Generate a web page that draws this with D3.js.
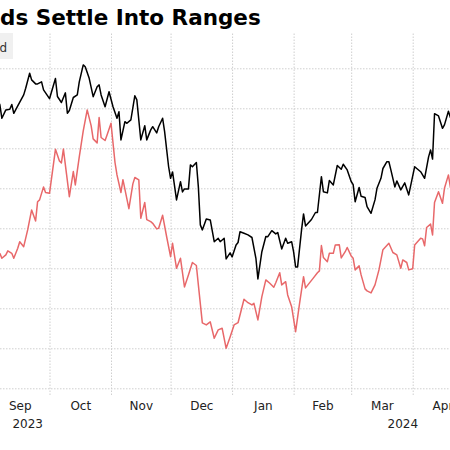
<!DOCTYPE html>
<html>
<head>
<meta charset="utf-8">
<script src="https://cdn.jsdelivr.net/npm/d3@7"></script>
<style>
  html, body { margin: 0; padding: 0; background: #fff; }
  svg { display: block; }
</style>
</head>
<body>
<svg id="chart" width="450" height="450"></svg>
<script>
// ---------------- DATA ----------------
const titleText = "ds Settle Into Ranges";
const legendText = "d";

const blackDates = [
"2023-09-05","2023-09-06","2023-09-07","2023-09-09","2023-09-11","2023-09-12","2023-09-13","2023-09-15","2023-09-18","2023-09-19",
"2023-09-21","2023-09-22","2023-09-24","2023-09-25","2023-09-27","2023-09-28","2023-10-01","2023-10-04","2023-10-05","2023-10-07",
"2023-10-09","2023-10-10","2023-10-11","2023-10-13","2023-10-15","2023-10-16","2023-10-18","2023-10-19","2023-10-21","2023-10-23",
"2023-10-25","2023-10-26","2023-10-27","2023-10-29","2023-10-31","2023-11-02","2023-11-04","2023-11-05","2023-11-06","2023-11-08",
"2023-11-09","2023-11-11","2023-11-13","2023-11-14","2023-11-16","2023-11-18","2023-11-19","2023-11-21","2023-11-22","2023-11-24",
"2023-11-25","2023-11-27","2023-11-28","2023-11-30","2023-12-01","2023-12-02","2023-12-04","2023-12-06","2023-12-07","2023-12-08",
"2023-12-10","2023-12-11","2023-12-12","2023-12-14","2023-12-15","2023-12-16","2023-12-17","2023-12-19","2023-12-21","2023-12-23",
"2023-12-25","2023-12-26","2023-12-28","2023-12-29","2023-12-31","2024-01-01","2024-01-03","2024-01-04","2024-01-05","2024-01-07",
"2024-01-09","2024-01-11","2024-01-13","2024-01-14","2024-01-16","2024-01-18","2024-01-19","2024-01-21","2024-01-23","2024-01-24",
"2024-01-26","2024-01-28","2024-01-29","2024-01-31","2024-02-01","2024-02-02","2024-02-03","2024-02-05","2024-02-06","2024-02-07",
"2024-02-10","2024-02-12","2024-02-13","2024-02-15","2024-02-16","2024-02-18","2024-02-19","2024-02-21","2024-02-23","2024-02-25",
"2024-02-26","2024-02-28","2024-03-01","2024-03-02","2024-03-03","2024-03-05","2024-03-06","2024-03-08","2024-03-09","2024-03-11",
"2024-03-13","2024-03-14","2024-03-16","2024-03-17","2024-03-19","2024-03-20","2024-03-21","2024-03-23","2024-03-24","2024-03-26",
"2024-03-28","2024-03-30","2024-04-02","2024-04-05","2024-04-07","2024-04-09","2024-04-10","2024-04-11","2024-04-12","2024-04-14",
"2024-04-16","2024-04-17","2024-04-19","2024-04-20","2024-04-21"
];
const blackValues = [
4.842,4.817,4.750,4.792,4.795,4.819,4.775,4.812,4.867,4.900,
4.975,4.942,4.922,4.922,4.932,4.892,4.848,4.949,4.859,4.829,
4.877,4.775,4.789,4.854,4.867,4.932,5.017,5.008,4.950,4.858,
4.908,4.917,4.867,4.808,4.883,4.808,4.750,4.783,4.642,4.733,
4.725,4.742,4.863,4.842,4.642,4.713,4.642,4.692,4.708,4.677,
4.708,4.750,4.683,4.509,4.450,4.482,4.342,4.433,4.382,4.397,
4.397,4.517,4.508,4.529,4.407,4.217,4.192,4.247,4.242,4.133,
4.150,4.133,4.150,4.047,4.077,4.057,4.117,4.129,4.183,4.175,
4.167,4.154,4.050,3.947,4.083,4.159,4.158,4.188,4.172,4.179,
4.097,4.150,4.125,4.133,4.082,4.007,4.007,4.192,4.272,4.212,
4.244,4.279,4.279,4.458,4.383,4.377,4.439,4.417,4.514,4.495,
4.520,4.492,4.434,4.418,4.333,4.404,4.360,4.354,4.308,4.275,
4.342,4.400,4.450,4.499,4.533,4.533,4.492,4.407,4.437,4.392,
4.427,4.367,4.508,4.483,4.450,4.557,4.592,4.546,4.773,4.762,
4.700,4.717,4.785,4.754,4.742
];

const redDates = [
"2023-09-06","2023-09-07","2023-09-09","2023-09-10","2023-09-12","2023-09-13","2023-09-15","2023-09-16","2023-09-18","2023-09-20",
"2023-09-22","2023-09-24","2023-09-25","2023-09-26","2023-09-28","2023-09-29","2023-10-01","2023-10-04","2023-10-06","2023-10-07",
"2023-10-08","2023-10-11","2023-10-13","2023-10-14","2023-10-16","2023-10-18","2023-10-20","2023-10-22","2023-10-23","2023-10-25",
"2023-10-26","2023-10-27","2023-10-29","2023-10-30","2023-11-01","2023-11-03","2023-11-04","2023-11-06","2023-11-07","2023-11-10",
"2023-11-12","2023-11-13","2023-11-15","2023-11-16","2023-11-18","2023-11-19","2023-11-21","2023-11-22","2023-11-24","2023-11-25",
"2023-11-27","2023-11-29","2023-12-01","2023-12-02","2023-12-04","2023-12-06","2023-12-08","2023-12-10","2023-12-12","2023-12-14",
"2023-12-15","2023-12-17","2023-12-19","2023-12-21","2023-12-23","2023-12-25","2023-12-27","2023-12-29","2023-12-31","2024-01-02",
"2024-01-04","2024-01-07","2024-01-09","2024-01-11","2024-01-12","2024-01-14","2024-01-16","2024-01-18","2024-01-20","2024-01-22",
"2024-01-23","2024-01-25","2024-01-26","2024-01-28","2024-01-29","2024-01-31","2024-02-02","2024-02-04","2024-02-06","2024-02-07",
"2024-02-11","2024-02-13","2024-02-14","2024-02-15","2024-02-16","2024-02-18","2024-02-19","2024-02-21","2024-02-22","2024-02-24",
"2024-02-25","2024-02-27","2024-02-28","2024-03-01","2024-03-02","2024-03-03","2024-03-05","2024-03-06","2024-03-08","2024-03-09",
"2024-03-11","2024-03-13","2024-03-15","2024-03-17","2024-03-20","2024-03-22","2024-03-24","2024-03-26","2024-03-27","2024-03-29",
"2024-03-30","2024-04-01","2024-04-02","2024-04-05","2024-04-06","2024-04-07","2024-04-08","2024-04-10","2024-04-11","2024-04-12",
"2024-04-14","2024-04-16","2024-04-17","2024-04-19","2024-04-20","2024-04-21"
];
const redValues = [
4.075,4.050,4.067,4.087,4.075,4.050,4.100,4.133,4.108,4.192,
4.292,4.237,4.333,4.342,4.407,4.379,4.375,4.595,4.537,4.527,
4.596,4.358,4.484,4.417,4.557,4.687,4.792,4.712,4.647,4.627,
4.754,4.654,4.639,4.667,4.725,4.529,4.467,4.379,4.443,4.298,
4.422,4.454,4.442,4.250,4.329,4.243,4.233,4.225,4.197,4.200,
4.265,4.159,4.058,4.125,4.000,4.050,3.907,3.967,4.029,4.014,
3.917,3.727,3.717,3.732,3.650,3.692,3.700,3.600,3.657,3.717,
3.728,3.845,3.828,3.817,3.825,3.742,3.858,3.942,3.925,3.905,
3.928,3.978,3.917,3.933,3.867,3.808,3.683,3.825,3.958,3.902,
3.952,3.978,3.987,4.114,4.054,4.033,4.075,4.075,4.117,4.118,
4.052,4.083,4.104,4.062,4.050,3.992,4.012,3.967,3.897,3.887,
3.877,3.917,3.992,4.093,4.125,4.079,4.067,4.000,4.042,4.029,
3.992,3.998,4.117,4.150,4.147,4.113,4.204,4.221,4.167,4.329,
4.383,4.325,4.400,4.467,4.404,4.392
];

const monthLabels = ["Sep","Oct","Nov","Dec","Jan","Feb","Mar","Apr"];
const monthStarts = ["2023-09-01","2023-10-01","2023-11-01","2023-12-01","2024-01-01","2024-02-01","2024-03-01","2024-04-01","2024-05-01"];
const yearLabels = ["2023","2024"];
const yearLabelDates = ["2023-09-20","2024-03-27"];
const yGridValues = [3.4,3.6,3.8,4.0,4.2,4.4,4.6,4.8,5.0];

// ---------------- CHART ----------------
const parse = d3.timeParse("%Y-%m-%d");
const svg = d3.select("#chart");

const x = d3.scaleTime()
  .domain([parse("2023-10-01"), parse("2024-04-01")])
  .range([49.5, 412.7]);
const y = d3.scaleLinear()
  .domain([3.4, 5.0])
  .range([388.3, 68.3]);

const gridTop = 33, gridBottom = 395;
const gridColor = "#cfcfcf";

// horizontal grid
svg.append("g")
  .attr("transform", "translate(0,0)")
  .call(d3.axisRight(y).tickValues(yGridValues).tickSize(450).tickFormat(""))
  .call(g => g.select(".domain").remove())
  .call(g => g.selectAll("line")
    .attr("stroke", gridColor)
    .attr("stroke-dasharray", "1.5,1.5"));

// vertical grid at month starts
const starts = monthStarts.map(parse);
svg.append("g")
  .attr("transform", `translate(0,${gridBottom})`)
  .call(d3.axisBottom(x).tickValues(starts).tickSize(-(gridBottom - gridTop)).tickFormat(""))
  .call(g => g.select(".domain").remove())
  .call(g => g.selectAll("line")
    .attr("stroke", gridColor)
    .attr("stroke-dasharray", "1.5,1.5"));

// month labels at mid-month
const mids = monthLabels.map((m, i) => new Date((starts[i].getTime() + starts[i + 1].getTime()) / 2));
svg.append("g")
  .attr("transform", "translate(0,398)")
  .call(d3.axisBottom(x).tickValues(mids).tickSize(0).tickFormat((d, i) => monthLabels[i]))
  .call(g => g.select(".domain").remove())
  .call(g => g.selectAll("text")
    .attr("font-family", "'DejaVu Sans', sans-serif")
    .attr("font-size", 12)
    .attr("fill", "#222")
    .attr("dy", "0.71em"));

// year labels
svg.append("g").selectAll("text")
  .data(yearLabels)
  .join("text")
  .attr("x", (d, i) => x(parse(yearLabelDates[i])))
  .attr("y", 428)
  .attr("text-anchor", "middle")
  .attr("font-family", "'DejaVu Sans', sans-serif")
  .attr("font-size", 12)
  .attr("fill", "#222")
  .text(d => d);

// lines
const line = d3.line()
  .x(d => x(d.date))
  .y(d => y(d.value));

const blackSeries = blackDates.map((d, i) => ({ date: parse(d), value: blackValues[i] }));
const redSeries = redDates.map((d, i) => ({ date: parse(d), value: redValues[i] }));

svg.append("path")
  .datum(redSeries)
  .attr("fill", "none")
  .attr("stroke", "#e8686a")
  .attr("stroke-width", 1.5)
  .attr("stroke-linejoin", "round")
  .attr("d", line);

svg.append("path")
  .datum(blackSeries)
  .attr("fill", "none")
  .attr("stroke", "#000")
  .attr("stroke-width", 1.5)
  .attr("stroke-linejoin", "round")
  .attr("d", line);

// legend (cropped)
svg.append("rect")
  .attr("x", -20).attr("y", 33)
  .attr("width", 33).attr("height", 26)
  .attr("fill", "#f0f0f0");
svg.append("text")
  .attr("x", 7).attr("y", 52)
  .attr("text-anchor", "end")
  .attr("font-family", "'DejaVu Sans', sans-serif")
  .attr("font-size", 12)
  .attr("fill", "#333")
  .text(legendText);

// title (cropped on the left)
svg.append("text")
  .attr("x", 0).attr("y", 25)
  .attr("font-family", "'DejaVu Sans', sans-serif")
  .attr("font-weight", "bold")
  .attr("font-size", 21.5)
  .attr("fill", "#000")
  .text(titleText);
</script>
</body>
</html>
